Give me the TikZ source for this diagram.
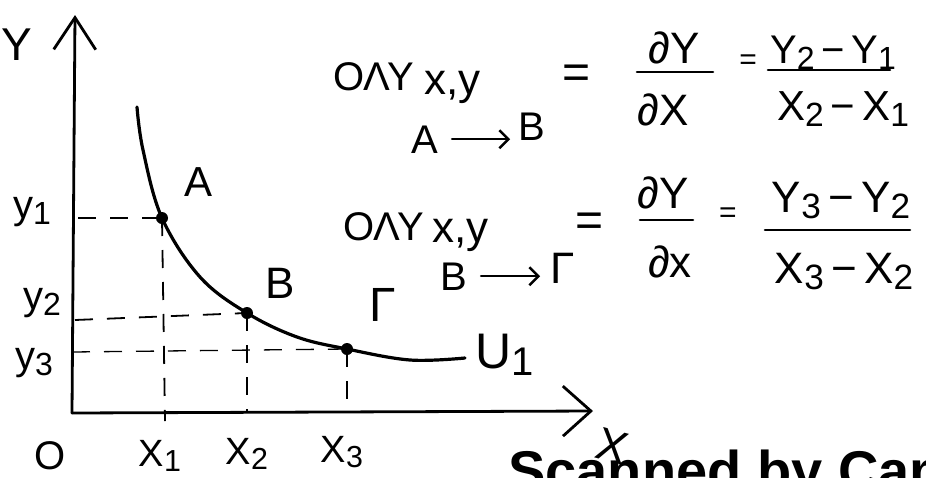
\documentclass[tikz,border=0pt]{standalone}
\usepackage{fontspec}
\usepackage{graphicx}
\setmainfont{Liberation Sans}
\usetikzlibrary{arrows.meta}
\newcommand\lo[1]{\raisebox{-0.15em}{\scalebox{0.8}{#1}}}
\newcommand\fsz[1]{\fontsize{#1}{#1}\selectfont}
\begin{document}
\begin{tikzpicture}[x=1pt,y=-1pt,
  hw/.style={inner sep=0pt, font=\fsz{40}},
  axisline/.style={line width=2.8pt, line cap=round, line join=round},
  curveline/.style={line width=3.2pt, line cap=round},
  guide/.style={line width=1.8pt, dash pattern=on 18pt off 14pt},
  dot/.style={circle, fill=black, inner sep=0pt, minimum size=12pt},
  fracbar/.style={line width=2.6pt, line cap=round},
  harrow/.style={line width=2.4pt, line cap=round, -{Straight Barb[length=9pt,width=18pt,line width=2.4pt]}}]
\useasboundingbox (0,0) rectangle (926,477);
\clip (0,0) rectangle (926,477);

% axes
\coordinate (O) at (72,413);
\coordinate (Ytip) at (75,15);
\coordinate (Xtip) at (593,411);
\draw[axisline, -{Straight Barb[length=32pt,width=42pt,line width=2.8pt]}] (O) -- (Ytip);
\draw[axisline, -{Straight Barb[length=28pt,width=50pt,line width=2.8pt]}] (O) -- (Xtip);

% curve
\coordinate (A) at (162,218);
\coordinate (B) at (247,313);
\coordinate (G) at (347,349);
\draw[curveline] plot[smooth, tension=0.6] coordinates {(137,107) (143,150) (162,218) (200,277) (247,313) (297,337) (347,349) (410,360) (465,358)};

% guide lines
\coordinate (y1s) at (78,218);
\coordinate (x1e) at (165,421);
\coordinate (y2s) at (75,320);
\coordinate (x2e) at (247,413);
\coordinate (y3s) at (72,352);
\coordinate (x3e) at (347,408);
\draw[guide] (y1s) -- (A);
\draw[guide] (A) -- (x1e);
\draw[guide] (y2s) -- (B);
\draw[guide] (B) -- (x2e);
\draw[guide, line width=1.3pt] (y3s) -- (G);
\draw[guide] (G) -- (x3e);

\node[dot] (pA) at (A) {};
\node[dot] (pB) at (B) {};
\node[dot] (pG) at (G) {};

% graph labels
\node[hw, font=\fsz{46}] (Ylab) at (17,45) {Υ};
\node[hw, font=\fsz{40}] (ly1) at (32,212) {y\lo{1}};
\node[hw, font=\fsz{40}] (ly2) at (42,303) {y\lo{2}};
\node[hw, font=\fsz{40}] (ly3) at (34,363) {y\lo{3}};
\node[hw, font=\fsz{40}] (lO) at (50,456) {O};
\node[hw, font=\fsz{38}] (lx1) at (160,456) {X\lo{1}};
\node[hw, font=\fsz{38}] (lx2) at (247,454) {X\lo{2}};
\node[hw, font=\fsz{38}] (lx3) at (342,452) {X\lo{3}};
\node[hw, font=\fsz{42}] (lA) at (199,182) {A};
\node[hw, font=\fsz{44}] (lB) at (280,283) {B};
\node[hw, font=\fsz{48}] (lG) at (383,305) {Γ};
\node[hw, font=\fsz{50}] (lU) at (505,355) {U\lo{1}};
\node[hw, font=\fsz{46}, rotate=-15] (lX) at (612,446) {X};

% formula 1
\node[hw, font=\fsz{40}, anchor=base west] (olu1) at (333,90) {ΟΛΥ};
\node[hw, font=\fsz{44}, anchor=base west] (xy1) at (424,94) {x,y};
\node[hw, font=\fsz{40}, anchor=base west] (a1) at (411,153) {A};
\node[hw, font=\fsz{40}, anchor=base west] (b1) at (518,140) {B};
\draw[harrow, shorten <=14pt, shorten >=8pt] (a1.east) -- (a1.east -| b1.west);
\node[hw, font=\fsz{48}] (eq1) at (577,77) {=};
\node[hw, font=\fsz{44}, anchor=base] (n1) at (674,63) {∂Υ};
\node[hw, font=\fsz{44}, anchor=base] (d1) at (663,125) {∂X};
\draw[fracbar] (637,72) -- (713,72);
\node[hw, font=\fsz{30}] (eq2) at (748,62) {=};
\node[hw, font=\fsz{40}, anchor=base] (n2) at (833,63) {Υ\lo{2}\,−\,Υ\lo{1}};
\node[hw, font=\fsz{42}, anchor=base] (d2) at (843,120) {X\lo{2}\,−\,X\lo{1}};
\draw[fracbar] (768,70) -- (890,70);

% formula 2
\node[hw, font=\fsz{40}, anchor=base west] (olu2) at (343,240) {ΟΛΥ};
\node[hw, font=\fsz{44}, anchor=base west] (xy2) at (432,242) {x,y};
\node[hw, font=\fsz{40}, anchor=base west] (b2) at (440,290) {B};
\node[hw, font=\fsz{44}, anchor=base west] (g2) at (550,283) {Γ};
\draw[harrow, shorten <=14pt, shorten >=10pt] (b2.east) -- (b2.east -| g2.west);
\node[hw, font=\fsz{48}] (eq3) at (590,225) {=};
\node[hw, font=\fsz{44}, anchor=base] (n3) at (663,208) {∂Υ};
\node[hw, font=\fsz{44}, anchor=base] (d3) at (670,277) {∂x};
\draw[fracbar] (640,220) -- (693,220);
\node[hw, font=\fsz{30}] (eq4) at (728,215) {=};
\node[hw, font=\fsz{44}, anchor=base] (n4) at (841,212) {Υ\lo{3}\,−\,Υ\lo{2}};
\node[hw, font=\fsz{44}, anchor=base] (d4) at (844,283) {X\lo{3}\,−\,X\lo{2}};
\draw[fracbar] (765,230) -- (910,230);

% watermark
\node[inner sep=0pt, anchor=base west, font=\fsz{56}\bfseries] (scan) at (508,490) {Scanned by CamScanner};
\end{tikzpicture}
\end{document}
